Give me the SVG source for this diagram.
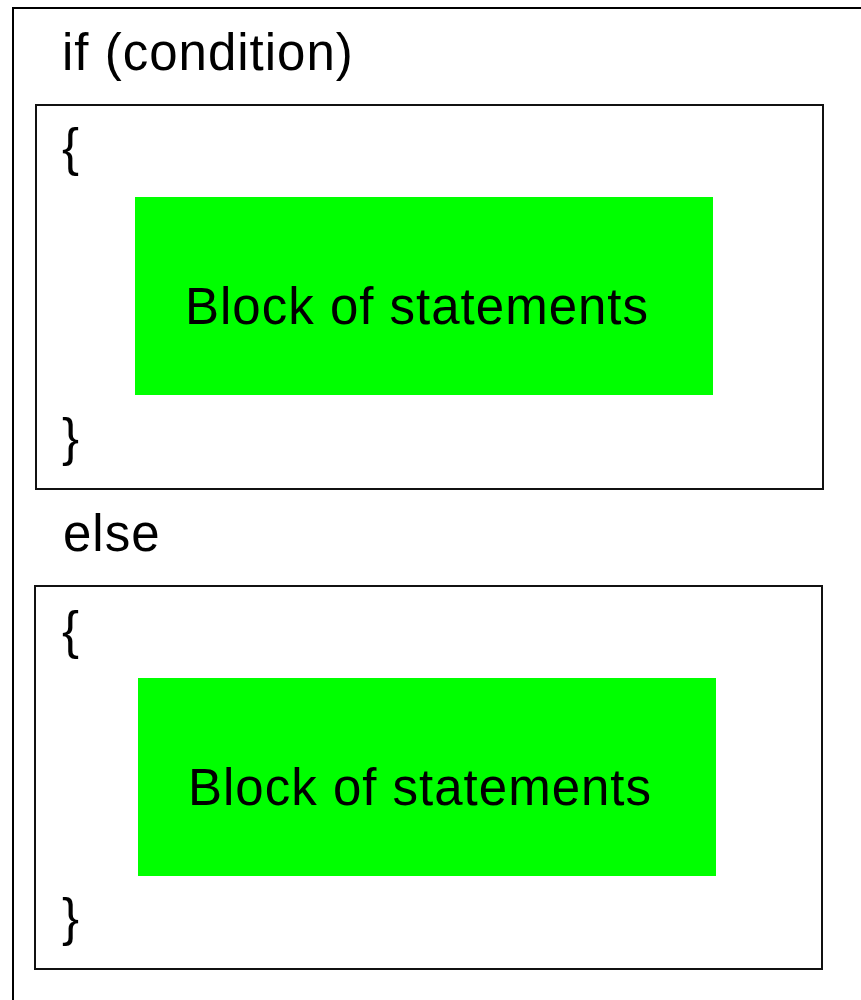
<svg xmlns="http://www.w3.org/2000/svg" width="861" height="1000" viewBox="0 0 861 1000">
<style>
.t{font-family:"Liberation Sans",Arial,sans-serif;font-size:51px;letter-spacing:1px;fill:#000}
.box{fill:#fff;stroke:#111;stroke-width:2}
.blk{fill:#00ff00;stroke:none}
</style>
<rect x="0" y="0" width="861" height="1000" fill="#fff"/>
<g id="outer">
<rect x="13" y="8" width="900" height="1040" fill="#fff" stroke="#000" stroke-width="2"/>
<text class="t" x="62" y="70">if (condition)</text>
</g>
<g id="if-box">
<rect class="box" x="36" y="105" width="787" height="384" stroke="#333"/>
<text class="t" x="62" y="165">{</text>
<text class="t" x="62" y="455">}</text>
</g>
<g id="if-block">
<rect class="blk" x="135" y="197" width="578" height="198"/>
<text class="t" x="185" y="324">Block of statements</text>
</g>
<g id="else-label">
<text class="t" x="63" y="551">else</text>
</g>
<g id="else-box">
<rect class="box" x="35" y="586" width="787" height="383"/>
<text class="t" x="62" y="648">{</text>
<text class="t" x="62" y="935">}</text>
</g>
<g id="else-block">
<rect class="blk" x="138" y="678" width="578" height="198"/>
<text class="t" x="188" y="805">Block of statements</text>
</g>
<g id="connectors"></g>
</svg>
